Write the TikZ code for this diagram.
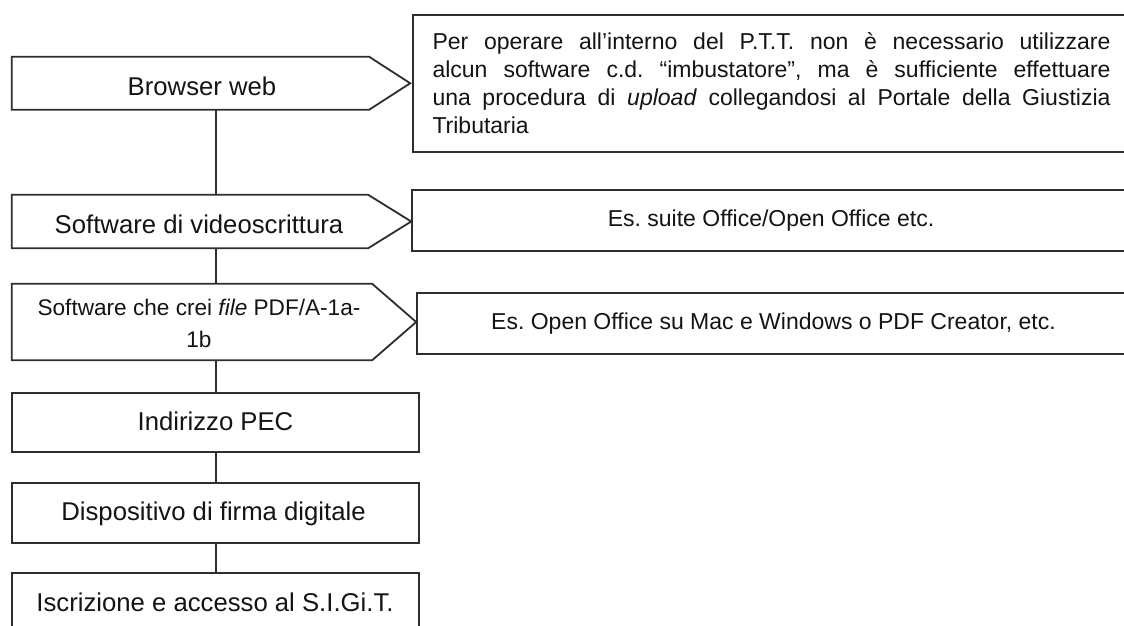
\documentclass[tikz,border=0pt]{standalone}
\usepackage{fontspec}
\setmainfont{Liberation Sans}
\definecolor{ink}{HTML}{2E2E2E}
\definecolor{txt}{HTML}{141414}
\frenchspacing
\begin{document}
\begin{tikzpicture}[x=1pt,y=-1pt,
  edge/.style={draw=ink, line width=1.8pt},
  shapebody/.style={rectangle, draw=none, inner sep=0pt},
  outline/.style={draw=ink, line width=1.8pt, fill=white, line join=miter},
  stepbox/.style={rectangle, draw=ink, line width=1.8pt, fill=white, inner sep=0pt, minimum width=407pt},
  lbl/.style={inner sep=0pt, text=txt, font=\fontsize{25.7}{30}\selectfont},
  note/.style={rectangle, draw=ink, line width=1.8pt, fill=white, inner sep=0pt,
    text=txt, font=\fontsize{23}{28}\selectfont},
]
\useasboundingbox (0,0) rectangle (1124,625);
\fill[white] (0,0) rectangle (1124,625);
\coordinate (spine) at (216,0);

% arrow-shaped steps: rectangular body plus a pointed tip
\node[shapebody, minimum width=357pt, minimum height=52.5pt] (a1) at (190.5,83.25) {};
\node[shapebody, minimum width=356pt, minimum height=53pt] (a2) at (190,221.5) {};
\node[shapebody, minimum width=360pt, minimum height=76pt] (a3) at (192,322) {};
\draw[outline] (a1.north west) -- (a1.north east) -- ([xshift=41pt]a1.east) -- (a1.south east) -- (a1.south west) -- cycle;
\draw[outline] (a2.north west) -- (a2.north east) -- ([xshift=43pt]a2.east) -- (a2.south east) -- (a2.south west) -- cycle;
\draw[outline] (a3.north west) -- (a3.north east) -- ([xshift=44pt]a3.east) -- (a3.south east) -- (a3.south west) -- cycle;

% plain rectangular steps
\node[stepbox, minimum height=59pt] (b4) at (215.5,422.5) {};
\node[stepbox, minimum height=60pt] (b5) at (215.5,513) {};
\node[stepbox, minimum height=72pt] (b6) at (215.5,609) {};

% vertical spine between the steps
\draw[edge] (a1.south -| spine) -- (a2.north -| spine);
\draw[edge] (a2.south -| spine) -- (a3.north -| spine);
\draw[edge] (a3.south -| spine) -- (b4.north -| spine);
\draw[edge] (b4.south -| spine) -- (b5.north -| spine);
\draw[edge] (b5.south -| spine) -- (b6.north -| spine);

% step labels
\node[lbl, anchor=base] (l1) at (202,95) {Browser web};
\node[lbl, anchor=base] (l2) at (199,233) {Software di videoscrittura};
\node[lbl, align=center, font=\fontsize{22.6}{32}\selectfont] (l3) at (199,323) {Software che crei \textit{file} PDF/A-1a-\\1b};
\node[lbl, anchor=base] (l4) at (215.5,430) {Indirizzo PEC};
\node[lbl, anchor=base] (l5) at (213.5,520) {Dispositivo di firma digitale};
\node[lbl, anchor=base] (l6) at (215,611) {Iscrizione e accesso al S.I.Gi.T.};

% explanatory notes on the right
\node[note, minimum width=717pt, minimum height=137pt, align=left] (r1) at (771.5,83.5)
  {\makebox[678pt][s]{Per operare all’interno del P.T.T. non è necessario utilizzare}\\
   \makebox[678pt][s]{alcun software c.d. “imbustatore”, ma è sufficiente effettuare}\\
   \makebox[678pt][s]{una procedura di \textit{upload} collegandosi al Portale della Giustizia}\\
   Tributaria};
\node[note, minimum width=718pt, minimum height=61pt] (r2) at (771,220.5) {Es. suite Office/Open Office etc.};
\node[note, minimum width=713pt, minimum height=61pt] (r3) at (773.5,323.5) {Es. Open Office su Mac e Windows o PDF Creator, etc.};
\end{tikzpicture}
\end{document}
